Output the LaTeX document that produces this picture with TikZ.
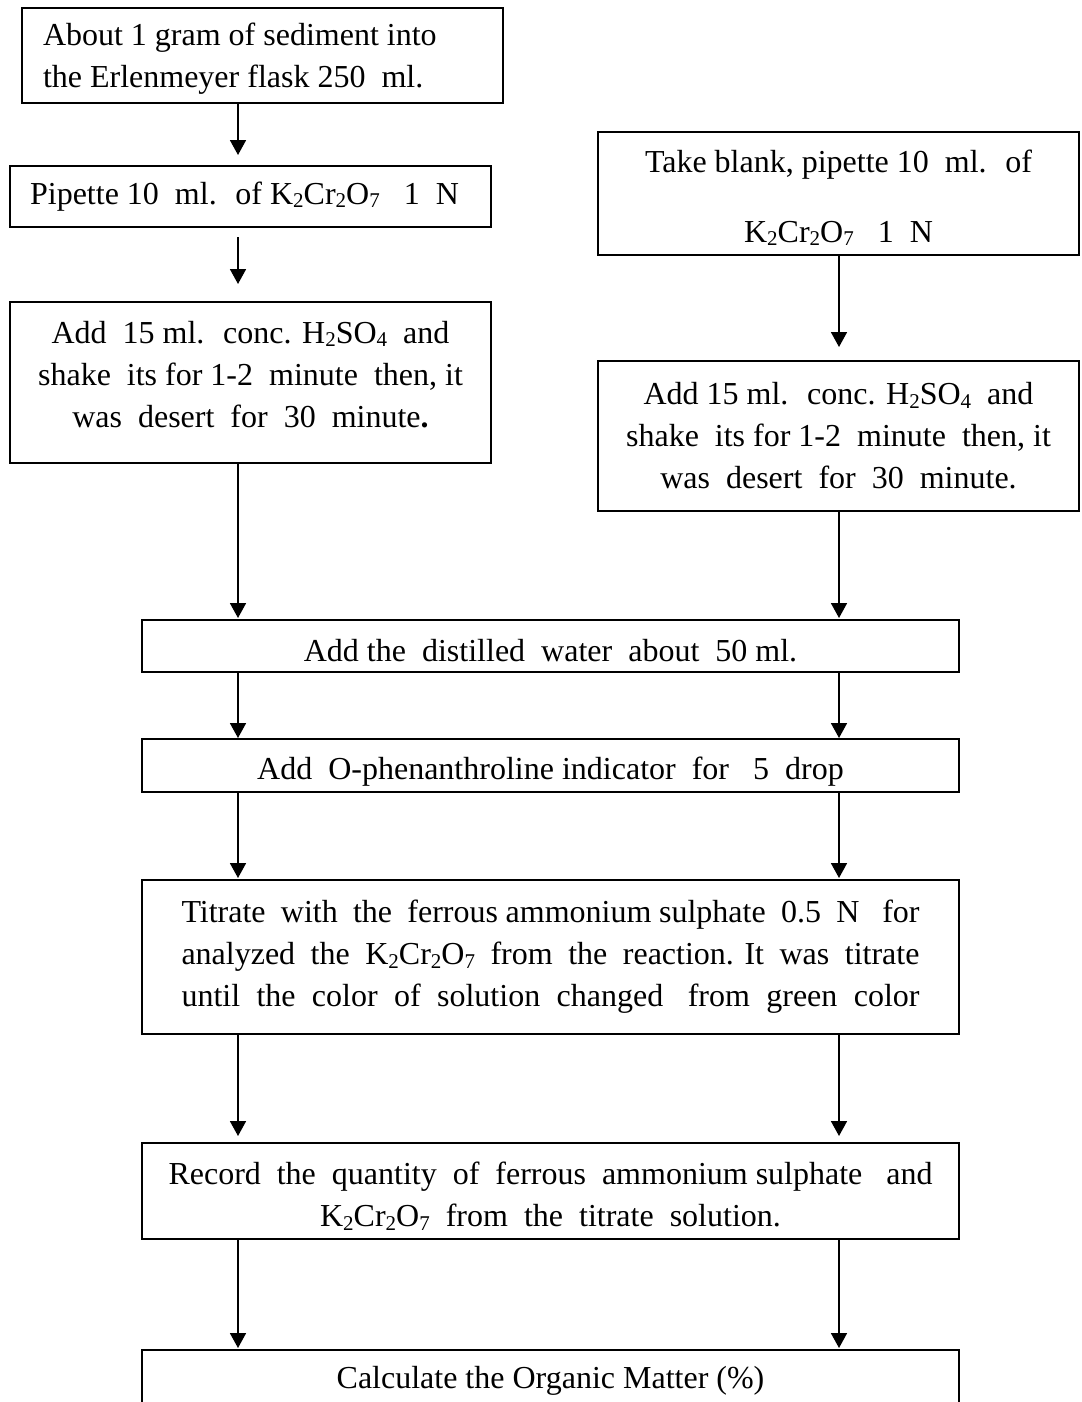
\documentclass[tikz,border=0pt]{standalone}
\usepackage{fontspec}
\setmainfont{Liberation Serif}
\usetikzlibrary{arrows.meta}
\newcommand\sbs[1]{\raisebox{-3.5pt}{\fontsize{21}{21}\selectfont #1}}
\newcommand\kcro{K\sbs{2}Cr\sbs{2}O\sbs{7}}
\newcommand\hso{H\sbs{2}SO\sbs{4}}
\begin{document}
\begin{tikzpicture}[x=1pt,y=-1pt,
  box/.style={draw, line width=1.8pt, inner sep=0pt, outer sep=0pt, font=\fontsize{32}{42}\selectfont},
  arr/.style={line width=1.8pt, -{Triangle[length=15pt,width=16pt]}}]
\useasboundingbox (0,0) rectangle (1081,1402);
\clip (0,0) rectangle (1081,1402);
\coordinate (lcol) at (238,0);
\coordinate (rcol) at (839,0);

\node[box] (a) at (262.5,55.5) {\parbox[c][95pt][c]{481pt}{\vspace*{7pt}\raggedright\leftskip=21pt About 1 gram of sediment into\\the Erlenmeyer flask 250~ ml.}};
\node[box] (b) at (250.5,196.5) {\parbox[c][61pt][c]{481pt}{\centering Pipette 10~ ml.~ of \kcro~~ 1~ N\hspace*{12pt}}};
\node[box] (c) at (250.5,382.5) {\parbox[c][161pt][c]{481pt}{\centering Add~ 15 ml.~ conc. \hso~ and\\shake~ its for 1-2~ minute~ then, it\\was~ desert~ for~ 30~ minute\textbf{.}\par\vspace*{16pt}}};
\node[box] (r1) at (838.5,193.5) {\parbox[c][123pt][c]{481pt}{\vspace*{8pt}\centering Take blank, pipette 10~ ml.~ of\\[28pt]\kcro~~ 1~ N}};
\node[box] (r2) at (838.5,436) {\parbox[c][150pt][c]{481pt}{\centering Add 15 ml.~ conc. \hso~ and\\shake~ its for 1-2~ minute~ then, it\\was~ desert~ for~ 30~ minute.}};
\node[box] (d) at (550.5,646) {\parbox[c][52pt][c]{817pt}{\vspace*{10pt}\centering Add the~ distilled~ water~ about~ 50 ml.}};
\node[box] (e) at (550.5,765.5) {\parbox[c][53pt][c]{817pt}{\vspace*{12pt}\centering Add~ O-phenanthroline indicator~ for~~ 5~ drop}};
\node[box] (f) at (550.5,957) {\parbox[c][154pt][c]{817pt}{\centering\makebox[738pt][s]{Titrate~ with~ the~ ferrous ammonium sulphate~ 0.5~ N~~ for}\\\makebox[738pt][s]{analyzed~ the~ \kcro~ from~ the~ reaction. It~ was~ titrate}\\\makebox[738pt][s]{until~ the~ color~ of~ solution~ changed~~ from~ green~ color}}};
\node[box] (g) at (550.5,1191) {\parbox[c][96pt][c]{817pt}{\vspace*{10pt}\centering\makebox[764pt][s]{Record~ the~ quantity~ of~ ferrous~ ammonium sulphate~~ and}\\\kcro~ from~ the~ titrate~ solution.}};
\node[box] (h) at (550.5,1381) {\parbox[c][62pt][c]{817pt}{\centering Calculate the Organic Matter (\%)}};

\draw[arr, shorten >=11pt] (a.south -| lcol) -- (b.north -| lcol);
\draw[arr, shorten <=10pt, shorten >=18pt] (b.south -| lcol) -- (c.north -| lcol);
\draw[arr, shorten >=2pt] (c.south -| lcol) -- (d.north -| lcol);
\draw[arr, shorten >=14pt] (r1.south -| rcol) -- (r2.north -| rcol);
\draw[arr, shorten >=2pt] (r2.south -| rcol) -- (d.north -| rcol);
\draw[arr, shorten >=1pt] (d.south -| lcol) -- (e.north -| lcol);
\draw[arr, shorten >=1pt] (d.south -| rcol) -- (e.north -| rcol);
\draw[arr, shorten >=2pt] (e.south -| lcol) -- (f.north -| lcol);
\draw[arr, shorten >=2pt] (e.south -| rcol) -- (f.north -| rcol);
\draw[arr, shorten >=7pt] (f.south -| lcol) -- (g.north -| lcol);
\draw[arr, shorten >=7pt] (f.south -| rcol) -- (g.north -| rcol);
\draw[arr, shorten >=2pt] (g.south -| lcol) -- (h.north -| lcol);
\draw[arr, shorten >=2pt] (g.south -| rcol) -- (h.north -| rcol);
\end{tikzpicture}
\end{document}
